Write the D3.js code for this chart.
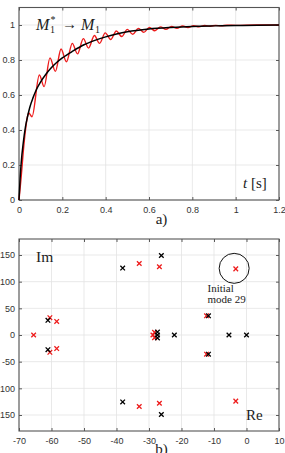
<!DOCTYPE html>
<html>
  <head>
    <title></title>
    <script src="https://cdn.jsdelivr.net/npm/d3@7"></script>
    <style>
      body { margin: 0; background: #fff; }
      .tick text { font-family: "Liberation Sans", Arial, sans-serif; font-size: 9px; fill: #333; }
      .tick line { stroke: #333; stroke-width: 0.8; }
      .grid line { stroke: #e3e3e3; stroke-width: 0.8; }
      .box { fill: none; stroke: #555; stroke-width: 1.1; }
      .serif { font-family: "Liberation Serif", "DejaVu Serif", serif; fill: #222; }
    </style>
  </head>
  <body>
    <script type="text/javascript">

    var width = 285,
        height = 453;

    // a) step response, black = reference, red = with oscillation
    var timeBlack = [0, 0.005, 0.01, 0.02, 0.03, 0.04, 0.05, 0.065, 0.08, 0.1, 0.125, 0.15, 0.175, 0.2,
                     0.25, 0.3, 0.35, 0.4, 0.45, 0.5, 0.6, 0.7, 0.8, 0.9, 1.0, 1.1, 1.2];
    var valueBlack = [0, 0.12, 0.21, 0.33, 0.42, 0.48, 0.53, 0.585, 0.63, 0.675, 0.72, 0.757, 0.787, 0.812,
                      0.852, 0.887, 0.912, 0.932, 0.948, 0.961, 0.977, 0.986, 0.992, 0.995, 0.997, 0.999, 1.0];

    var timeRed = [0, 0.01, 0.02, 0.03, 0.038, 0.045, 0.06, 0.094, 0.116, 0.143, 0.168, 0.194, 0.219,
                   0.246, 0.27, 0.297, 0.321, 0.348, 0.372, 0.398, 0.423, 0.449, 0.474, 0.5, 0.525,
                   0.551, 0.576, 0.602, 0.627, 0.653, 0.678, 0.704, 0.729, 0.755, 0.78, 0.806, 0.831,
                   0.857, 0.882, 0.908, 0.933, 0.96, 1.0, 1.1, 1.2];
    var valueRed = [0, 0.13, 0.28, 0.4, 0.47, 0.497, 0.476, 0.714, 0.648, 0.812, 0.735, 0.863, 0.79,
                    0.895, 0.835, 0.922, 0.868, 0.94, 0.895, 0.955, 0.917, 0.966, 0.934, 0.975, 0.947,
                    0.981, 0.958, 0.986, 0.967, 0.989, 0.975, 0.992, 0.981, 0.994, 0.986, 0.996, 0.99,
                    0.997, 0.993, 0.998, 0.995, 0.999, 0.998, 1.0, 1.0];

    var xTicksTop = [0, 0.2, 0.4, 0.6, 0.8, 1, 1.2];
    var yTicksTop = [0, 0.2, 0.4, 0.6, 0.8, 1];

    // b) poles
    var redRe = [-65.5, -60.5, -58.4, -60.5, -58.4, -33, -26.8, -33, -26.8, -28.3, -28.8, -28.3, -12.3, -12.3, -3.3, -3.3];
    var redIm = [0, 32.5, 25.5, -32.5, -25.5, 134, 128, -134, -128, 5, 0, -5, 36, -36, 124, -124];
    var blackRe = [-61.1, -61.1, -38.1, -38.1, -26.2, -26.2, -27.4, -27.4, -27.4, -22.2, -11.7, -11.7, -5.4, 0];
    var blackIm = [27.5, -27.5, 125.5, -125.5, 149, -149, 5.5, 0, -5.5, 0, 36, -36, 0, 0];
    var mode29 = [-3.8, 125];

    var xTicksBot = [-70, -60, -50, -40, -30, -20, -10, 0, 10];
    var yTicksBot = [-150, -100, -50, 0, 50, 100, 150];

    var svg = d3.select("body").append("svg")
        .attr("width", width)
        .attr("height", height);

    function frame(x, y, xTicks, yTicks, fmt) {
      var g = svg.append("g");
      var x0 = x.range()[0], x1 = x.range()[1],
          y0 = y.range()[0], y1 = y.range()[1];

      var grid = g.append("g").attr("class", "grid");
      grid.selectAll(".v").data(xTicks).enter().append("line")
          .attr("x1", x).attr("x2", x).attr("y1", y0).attr("y2", y1);
      grid.selectAll(".h").data(yTicks).enter().append("line")
          .attr("y1", y).attr("y2", y).attr("x1", x0).attr("x2", x1);

      // ticks point inward, on all four sides
      g.append("g").attr("transform", "translate(0," + y0 + ")")
          .call(d3.axisBottom(x).tickValues(xTicks).tickSizeInner(-3).tickSizeOuter(0).tickPadding(7).tickFormat(fmt))
          .call(function(a) { a.select(".domain").remove(); });
      g.append("g").attr("transform", "translate(0," + y1 + ")")
          .call(d3.axisTop(x).tickValues(xTicks).tickSizeInner(-3).tickSizeOuter(0).tickFormat(""))
          .call(function(a) { a.select(".domain").remove(); });
      g.append("g").attr("transform", "translate(" + x0 + ",0)")
          .call(d3.axisLeft(y).tickValues(yTicks).tickSizeInner(-3).tickSizeOuter(0).tickPadding(4).tickFormat(fmt))
          .call(function(a) { a.select(".domain").remove(); });
      g.append("g").attr("transform", "translate(" + x1 + ",0)")
          .call(d3.axisRight(y).tickValues(yTicks).tickSizeInner(-3).tickSizeOuter(0).tickFormat(""))
          .call(function(a) { a.select(".domain").remove(); });

      g.selectAll(".tick text").attr("fill", null);
      g.selectAll(".tick line").attr("stroke", null);

      g.append("rect").attr("class", "box")
          .attr("x", x0).attr("y", y1)
          .attr("width", x1 - x0).attr("height", y0 - y1);
      return g;
    }

    // ---------- a) ----------
    var xA = d3.scaleLinear().domain([0, 1.2]).range([19, 279]);
    var yA = d3.scaleLinear().domain([0, 1.1]).range([200, 7.5]);

    var fmtA = function(d) { return String(d); };
    var gA = frame(xA, yA, xTicksTop, yTicksTop, fmtA);

    var line = d3.line()
        .x(function(d) { return xA(d[0]); })
        .y(function(d) { return yA(d[1]); })
        .curve(d3.curveMonotoneX);

    svg.append("path")
        .datum(d3.zip(timeRed, valueRed))
        .attr("fill", "none")
        .attr("stroke", "#ee1c1c")
        .attr("stroke-width", 1.4)
        .attr("d", line);

    svg.append("path")
        .datum(d3.zip(timeBlack, valueBlack))
        .attr("fill", "none")
        .attr("stroke", "#000")
        .attr("stroke-width", 1.5)
        .attr("d", line);

    // M_1^* -> M_1
    var lab = svg.append("g").attr("class", "serif").attr("font-size", 16);
    lab.append("text").attr("x", 36).attr("y", 30).attr("font-style", "italic").text("M");
    lab.append("text").attr("x", 50.5).attr("y", 23).attr("font-size", 10).text("*");
    lab.append("text").attr("x", 50).attr("y", 33).attr("font-size", 10).text("1");
    lab.append("text").attr("x", 62).attr("y", 29).attr("font-size", 15).text("\u2192");
    lab.append("text").attr("x", 81).attr("y", 30).attr("font-style", "italic").text("M");
    lab.append("text").attr("x", 95).attr("y", 33).attr("font-size", 10).text("1");

    var tl = svg.append("text").attr("class", "serif").attr("font-size", 15)
        .attr("x", 243).attr("y", 188);
    tl.append("tspan").attr("font-style", "italic").text("t");
    tl.append("tspan").text(" [s]");

    svg.append("text").attr("class", "serif").attr("font-size", 15)
        .attr("x", 161.5).attr("y", 224).attr("text-anchor", "middle").text("a)");

    // ---------- b) ----------
    var xB = d3.scaleLinear().domain([-70, 10]).range([19, 279]);
    var yB = d3.scaleLinear().domain([-180, 180]).range([431, 239]);

    var gB = frame(xB, yB, xTicksBot, yTicksBot, function(d) { return String(d); });

    function cross(sel, re, im, color) {
      var s = 2.3;
      var pts = d3.zip(re, im);
      sel.selectAll(null).data(pts).enter().append("path")
          .attr("d", function(d) {
            var cx = xB(d[0]), cy = yB(d[1]);
            return "M" + (cx - s) + "," + (cy - s) + "L" + (cx + s) + "," + (cy + s) +
                   "M" + (cx - s) + "," + (cy + s) + "L" + (cx + s) + "," + (cy - s);
          })
          .attr("stroke", color)
          .attr("stroke-width", 1.3)
          .attr("fill", "none");
    }

    var marks = svg.append("g");
    cross(marks, redRe, redIm, "#ee1c1c");
    cross(marks, blackRe, blackIm, "#000");

    svg.append("circle")
        .attr("cx", xB(mode29[0]))
        .attr("cy", yB(mode29[1]))
        .attr("r", 15)
        .attr("fill", "none")
        .attr("stroke", "#111")
        .attr("stroke-width", 1);

    svg.append("text").attr("class", "serif").attr("font-size", 11)
        .attr("x", 207.5).attr("y", 292).text("Initial");
    svg.append("text").attr("class", "serif").attr("font-size", 11)
        .attr("x", 207.5).attr("y", 303).text("mode 29");

    svg.append("text").attr("class", "serif").attr("font-size", 15.5)
        .attr("x", 36).attr("y", 262).text("Im");
    svg.append("text").attr("class", "serif").attr("font-size", 15)
        .attr("x", 246).attr("y", 420).text("Re");

    svg.append("text").attr("class", "serif").attr("font-size", 15)
        .attr("x", 161.5).attr("y", 454).attr("text-anchor", "middle").text("b)");

    </script>
  </body>
</html>
